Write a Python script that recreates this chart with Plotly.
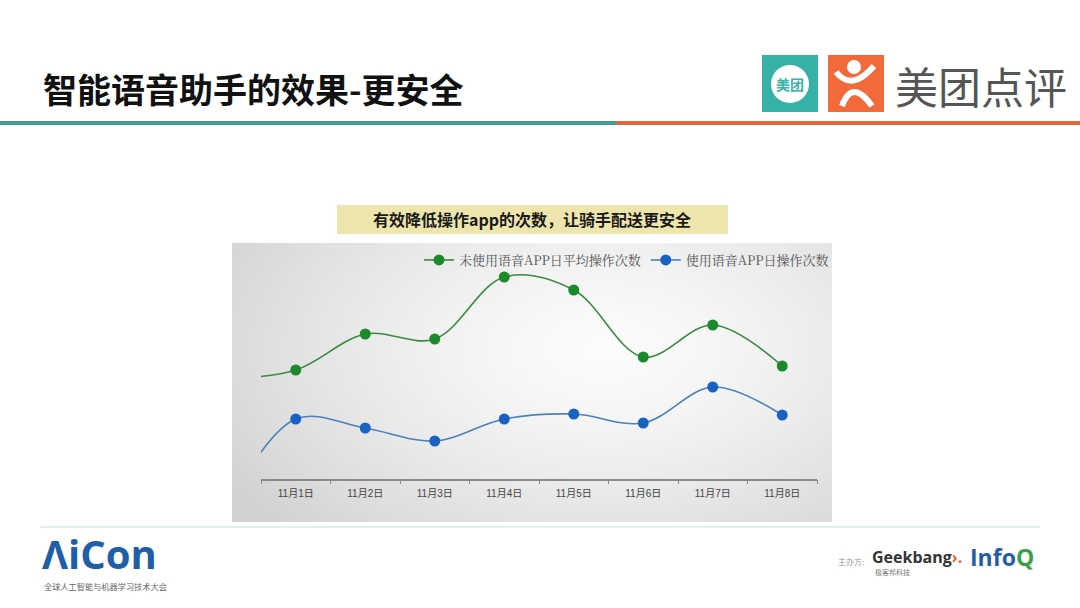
import base64
import struct
import zlib

import numpy as np
import plotly.graph_objects as go

# data (first point is the day before, only its line stub shows)
days = ["10月31日", "11月1日", "11月2日", "11月3日", "11月4日",
        "11月5日", "11月6日", "11月7日", "11月8日"]
no_voice = [121, 130, 166, 161, 223, 210, 143, 175, 134]
with_voice = [-8, 81, 72, 59, 81, 86, 77, 113, 85]
name_no_voice = "未使用语音APP日平均操作次数"
name_voice = "使用语音APP日操作次数"

W, H = 1080, 608


def px(x):
    return x / W


def py(y):
    return 1 - y / H


def png_uri(arr):
    h, w, _ = arr.shape
    raw = b"".join(b"\x00" + row.tobytes() for row in arr)

    def chunk(tag, data):
        c = struct.pack(">I", len(data)) + tag + data
        return c + struct.pack(">I", zlib.crc32(tag + data) & 0xFFFFFFFF)

    png = b"\x89PNG\r\n\x1a\n"
    png += chunk(b"IHDR", struct.pack(">IIBBBBB", w, h, 8, 2, 0, 0, 0))
    png += chunk(b"IDAT", zlib.compress(raw, 9))
    png += chunk(b"IEND", b"")
    return "data:image/png;base64," + base64.b64encode(png).decode()


# soft grey radial backdrop of the chart panel
gw, gh = 160, 75
xx, yy = np.meshgrid(np.linspace(0, 1, gw), np.linspace(0, 1, gh))
d = np.sqrt(((xx - 0.62) / 0.75) ** 2 + ((yy - 0.38) / 0.95) ** 2)
v = 252 - 42 * np.clip(d, 0, 1) ** 1.4
grad = np.repeat(v[:, :, None], 3, axis=2).astype(np.uint8)

xs = list(range(len(days)))
fig = go.Figure()
fig.add_trace(go.Scatter(
    x=xs, y=no_voice, name=name_no_voice, mode="lines+markers",
    line=dict(color="#3a8a40", width=1.6, shape="spline", smoothing=1),
    marker=dict(color="#1c8a2c", size=11),
))
fig.add_trace(go.Scatter(
    x=xs, y=with_voice, name=name_voice, mode="lines+markers",
    line=dict(color="#4a80bd", width=1.6, shape="spline", smoothing=1),
    marker=dict(color="#1a62c2", size=11),
))
# invisible trace carrying the boundary tick marks
fig.add_trace(go.Scatter(x=[0.5], y=[None], xaxis="x2", showlegend=False,
                         hoverinfo="skip"))

x_dom = [px(261), px(817)]
fig.update_layout(
    width=W, height=H,
    margin=dict(l=0, r=0, t=0, b=0),
    paper_bgcolor="white",
    plot_bgcolor="rgba(0,0,0,0)",
    font=dict(family="Noto Sans CJK SC, sans-serif"),
    xaxis=dict(
        domain=x_dom, range=[0.5, 8.5],
        tickvals=xs[1:], ticktext=days[1:],
        showgrid=False, zeroline=False, showline=True,
        linecolor="#8a8a8a", linewidth=1.5, ticks="",
        tickfont=dict(family="Liberation Sans, Noto Sans CJK SC", size=10,
                      color="#454545"),
        ticklabelstandoff=4,
    ),
    xaxis2=dict(
        domain=x_dom, range=[0.5, 8.5], overlaying="x", anchor="y",
        tickvals=[i + 0.5 for i in range(len(days))], showticklabels=False,
        ticks="outside", ticklen=4, tickcolor="#8a8a8a", tickwidth=1,
        showgrid=False, zeroline=False, showline=False,
    ),
    yaxis=dict(
        domain=[py(479), py(250)], range=[21, 250],
        visible=False,
    ),
    legend=dict(
        orientation="h", x=px(834), xanchor="right", y=py(245), yanchor="top",
        font=dict(family="Noto Serif CJK SC, Noto Sans CJK SC", size=13,
                  color="#555555"),
        bgcolor="rgba(0,0,0,0)", itemwidth=30, tracegroupgap=0,
    ),
    showlegend=True,
)

fig.add_layout_image(dict(
    source=png_uri(grad), xref="paper", yref="paper",
    x=px(232), y=py(243), sizex=px(600), sizey=279 / H,
    sizing="stretch", xanchor="left", yanchor="top", layer="below",
))

shapes = [
    # header rule
    dict(type="line", x0=0, x1=px(616), y0=py(123), y1=py(123),
         line=dict(color="#3d9f92", width=4)),
    dict(type="line", x0=px(616), x1=1, y0=py(123), y1=py(123),
         line=dict(color="#e2653d", width=4)),
    # chart caption box
    dict(type="rect", x0=px(337), x1=px(728), y0=py(205), y1=py(234),
         fillcolor="#eee5ad", line=dict(width=0)),
    # footer rule
    dict(type="line", x0=px(40), x1=px(1040), y0=py(527), y1=py(527),
         line=dict(color="#e3efef", width=2)),
    # meituan icon
    dict(type="rect", x0=px(762), x1=px(818), y0=py(112), y1=py(55),
         fillcolor="#35b2a5", line=dict(width=0)),
    dict(type="circle", x0=px(771), x1=px(809), y0=py(103), y1=py(65),
         fillcolor="white", line=dict(width=0)),
    # dianping icon
    dict(type="rect", x0=px(828), x1=px(884), y0=py(112), y1=py(55),
         fillcolor="#f26a3a", line=dict(width=0)),
    dict(type="circle", x0=px(847), x1=px(861), y0=py(74), y1=py(60),
         fillcolor="white", line=dict(width=0)),
    dict(type="path", path=f"M {px(836)},{py(72)} Q {px(852)},{py(92)} {px(874)},{py(66)}",
         line=dict(color="white", width=6)),
    dict(type="path", path=f"M {px(842)},{py(106)} Q {px(852)},{py(78)} {px(872)},{py(106)}",
         line=dict(color="white", width=6)),
]
for s in shapes:
    s.setdefault("xref", "paper")
    s.setdefault("yref", "paper")
    s["layer"] = "above" if s["type"] == "path" else "below"
fig.update_layout(shapes=shapes)

notes = [
    dict(text="<b>智能语音助手的效果-更安全</b>", x=px(41), y=py(88),
         xanchor="left", font=dict(size=34, color="#111111")),
    dict(text="<b>美团</b>", x=px(790), y=py(84), font=dict(size=14, color="#35b2a5")),
    dict(text="美团点评", x=px(893), y=py(85), xanchor="left",
         font=dict(size=43, color="#555555")),
    dict(text="<b>有效降低操作app的次数，让骑手配送更安全</b>", x=px(532), y=py(219),
         font=dict(size=16, color="#1a1a1a")),
    dict(text="<b>ΛiCon</b>", x=px(40), y=py(553), xanchor="left",
         font=dict(family="Open Sans, sans-serif", size=40, color="#1f5ea8")),
    dict(text="全球人工智能与机器学习技术大会", x=px(42), y=py(586), xanchor="left",
         font=dict(size=8.2, color="#666666")),
    dict(text="主办方:", x=px(836), y=py(561), xanchor="left",
         font=dict(size=8, color="#999999")),
    dict(text="<b>Geekbang<span style='color:#e8622e'>›.</span></b>", x=px(870),
         y=py(557), xanchor="left",
         font=dict(family="Open Sans, sans-serif", size=16, color="#333333")),
    dict(text="极客邦科技", x=px(873), y=py(572), xanchor="left",
         font=dict(size=7, color="#777777")),
    dict(text="<b>Info<span style='color:#3a9f48'>Q</span></b>", x=px(968),
         y=py(557), xanchor="left",
         font=dict(family="Open Sans, sans-serif", size=23, color="#1f5ea8")),
]
for n in notes:
    n.update(xref="paper", yref="paper", showarrow=False)
    n.setdefault("xanchor", "center")
    n.setdefault("yanchor", "middle")
fig.update_layout(annotations=notes)

fig.write_html("out.html",
               config={"displayModeBar": False},
               post_script="document.body.style.margin='0';"
                           "document.body.style.overflow='hidden';")
